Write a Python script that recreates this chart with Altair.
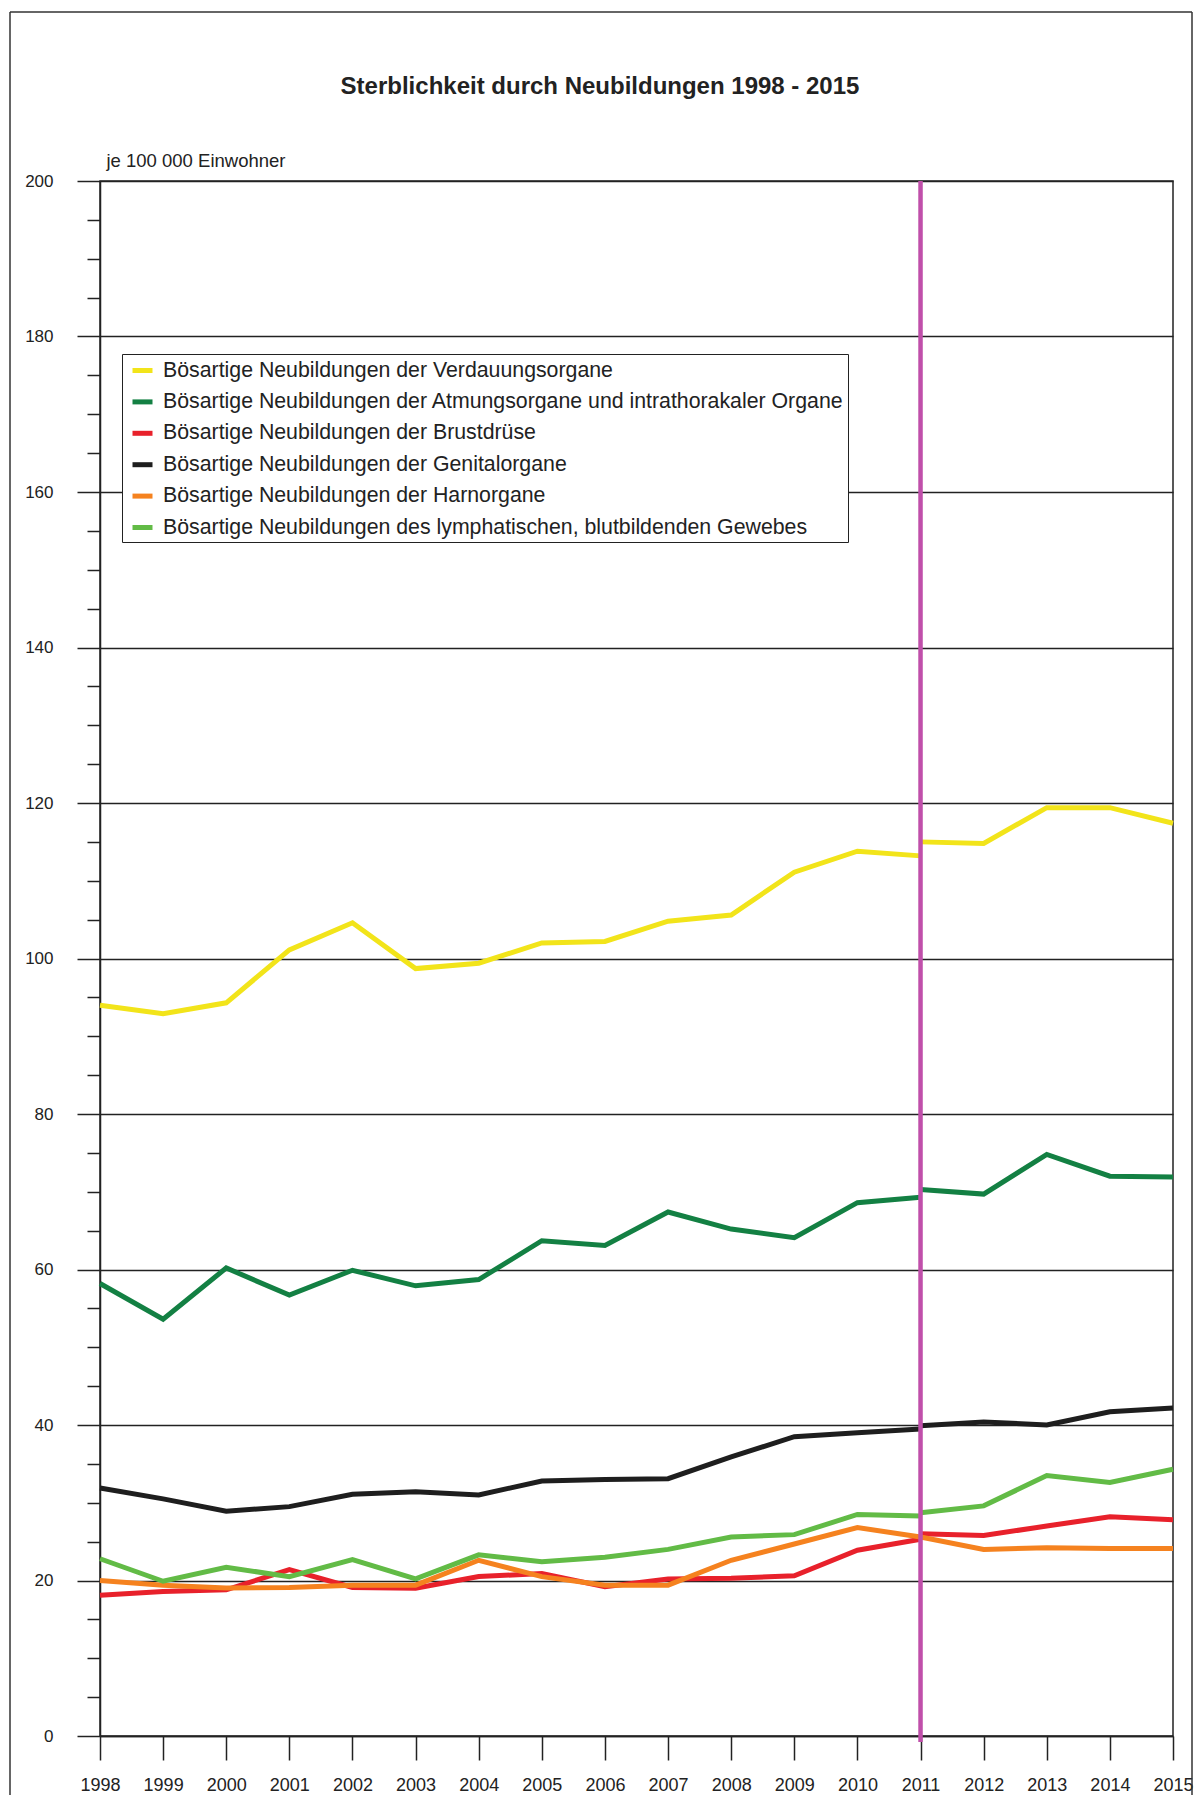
import altair as alt
import pandas as pd

# ---------------- data ----------------
title_text = "Sterblichkeit durch Neubildungen 1998 - 2015"
unit_text = "je 100 000 Einwohner"

years_old = list(range(1998, 2012))   # 1998 - 2011 (old basis)
years_new = list(range(2011, 2016))   # 2011 - 2015 (new basis)
year_ticks = list(range(1998, 2016))
break_year = [2011]

names = [
    "Bösartige Neubildungen der Verdauungsorgane",
    "Bösartige Neubildungen der Atmungsorgane und intrathorakaler Organe",
    "Bösartige Neubildungen der Brustdrüse",
    "Bösartige Neubildungen der Genitalorgane",
    "Bösartige Neubildungen der Harnorgane",
    "Bösartige Neubildungen des lymphatischen, blutbildenden Gewebes",
]
colors = ["#F2E41A", "#138043", "#E8212B", "#1E1E1E", "#F5821F", "#62BB46"]

verdauung_old = [94.0, 92.9, 94.3, 101.1, 104.6, 98.7, 99.4, 102.0, 102.2, 104.8, 105.6, 111.1, 113.8, 113.2]
verdauung_new = [115.0, 114.8, 119.4, 119.4, 117.4]
atmung_old = [58.2, 53.6, 60.2, 56.7, 59.9, 57.9, 58.7, 63.7, 63.1, 67.4, 65.2, 64.1, 68.6, 69.3]
atmung_new = [70.3, 69.7, 74.8, 72.0, 71.9]
brust_old = [18.1, 18.6, 18.8, 21.4, 19.1, 19.0, 20.5, 20.9, 19.2, 20.2, 20.3, 20.6, 23.9, 25.3]
brust_new = [26.0, 25.8, 27.0, 28.2, 27.8]
genital_old = [31.9, 30.5, 28.9, 29.5, 31.1, 31.4, 31.0, 32.8, 33.0, 33.1, 35.9, 38.5, 39.0, 39.5]
genital_new = [39.9, 40.4, 40.0, 41.7, 42.2]
harn_old = [20.0, 19.4, 19.05, 19.1, 19.4, 19.4, 22.6, 20.5, 19.4, 19.4, 22.6, 24.7, 26.8, 25.6]
harn_new = [25.6, 24.0, 24.2, 24.1, 24.1]
lymph_old = [22.8, 19.9, 21.7, 20.5, 22.7, 20.2, 23.3, 22.4, 23.0, 24.0, 25.6, 25.9, 28.5, 28.3]
lymph_new = [28.7, 29.6, 33.5, 32.6, 34.3]

series_old = [verdauung_old, atmung_old, brust_old, genital_old, harn_old, lymph_old]
series_new = [verdauung_new, atmung_new, brust_new, genital_new, harn_new, lymph_new]

rows = []
for name, old, new in zip(names, series_old, series_new):
    for y, v in zip(years_old, old):
        rows.append({"series": name, "seg": "alt", "year": y, "value": v})
    for y, v in zip(years_new, new):
        rows.append({"series": name, "seg": "neu", "year": y, "value": v})
df = pd.DataFrame(rows)

W, H = 1073, 1555
FONT = "Liberation Sans"
INK = "#222222"

x_scale = alt.Scale(domain=[1998, 2015], nice=False, zero=False)
y_scale = alt.Scale(domain=[0, 200], nice=False, zero=True)

is_major = "datum.value % 20 === 0"

y_axis = alt.Axis(
    values=list(range(0, 201, 5)),
    labelExpr="datum.value % 20 === 0 ? datum.label : ''",
    tickSize={"condition": {"test": is_major, "value": 23}, "value": 13},
    gridOpacity={"condition": {"test": is_major, "value": 1}, "value": 0},
    grid=True,
    gridColor=INK,
    gridWidth=1.5,
    domainColor=INK,
    domainWidth=1.5,
    tickColor=INK,
    tickWidth=1.5,
    labelFontSize=17,
    labelColor=INK,
    labelPadding=24,
    title=unit_text,
    titleAngle=0,
    titleAlign="left",
    titleBaseline="alphabetic",
    titleX=6,
    titleY=-15,
    titleFontSize=18.5,
    titleFontWeight="normal",
    titleColor=INK,
)

x_axis = alt.Axis(
    values=year_ticks,
    format="d",
    grid=False,
    tickSize=24,
    tickColor=INK,
    tickWidth=1.5,
    domainColor=INK,
    domainWidth=1.5,
    labelFontSize=18,
    labelColor=INK,
    labelPadding=16.5,
    labelFlush=False,
    labelOverlap=False,
    title=None,
)

legend = alt.Legend(
    title=None,
    orient="none",
    legendX=22,
    legendY=173,
    strokeColor=INK,
    fillColor="white",
    padding=4,
    labelFontSize=21.3,
    labelColor=INK,
    labelLimit=900,
    labelOffset=8,
    rowPadding=8.4,
    symbolType="stroke",
    symbolSize=400,
    symbolStrokeWidth=5,
    symbolOffset=4,
)

lines = alt.Chart(df).mark_line(strokeWidth=5).encode(
    x=alt.X("year:Q", scale=x_scale, axis=x_axis),
    y=alt.Y("value:Q", scale=y_scale, axis=y_axis),
    color=alt.Color("series:N", scale=alt.Scale(domain=names, range=colors), sort=names, legend=legend),
    detail="seg:N",
)

break_rule = alt.Chart(pd.DataFrame({"year": break_year})).mark_rule(
    color="#C04FAA", strokeWidth=4.5
).encode(
    x=alt.X("year:Q", scale=x_scale),
    y=alt.value(0),
    y2=alt.value(H + 6),
)

one = pd.DataFrame({"t": [title_text]})

title_mark = alt.Chart(one).mark_text(
    font=FONT, fontSize=24, fontWeight="bold", align="center", baseline="alphabetic", color=INK
).encode(text="t:N", x=alt.value(500), y=alt.value(-87))

frame_left = alt.Chart(one).mark_rule(color="#333333", strokeWidth=1.5).encode(
    x=alt.value(-90), y=alt.value(-169), y2=alt.value(H + 60))
frame_top = alt.Chart(one).mark_rule(color="#333333", strokeWidth=1.5).encode(
    x=alt.value(-90), x2=alt.value(1092), y=alt.value(-169))
frame_right = alt.Chart(one).mark_rule(color="#333333", strokeWidth=1.5).encode(
    x=alt.value(1092), y=alt.value(-169), y2=alt.value(H + 60))

chart = alt.layer(
    lines, break_rule, title_mark, frame_left, frame_top, frame_right
).properties(
    width=W,
    height=H,
    autosize=alt.AutoSizeParams(type="none"),
    padding={"left": 92, "top": 173, "right": 21, "bottom": 59},
    background="white",
).configure(
    font=FONT,
).configure_view(
    stroke=INK,
    strokeWidth=1.5,
)

chart.save("out.html", embed_options={"renderer": "svg", "actions": False})
